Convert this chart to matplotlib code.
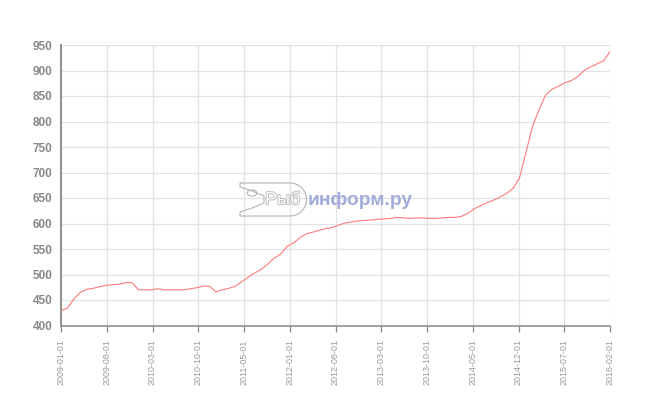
import matplotlib
matplotlib.use('Agg')
import matplotlib.pyplot as plt
import matplotlib.patheffects as pe
from matplotlib.patches import Circle, PathPatch
from matplotlib.path import Path
import numpy as np

plt.rcParams['font.family'] = ['Liberation Sans', 'DejaVu Sans']

# monthly values, 2009-01 .. 2016-02
prices = [429, 434, 452, 465, 471, 473, 476, 479, 480, 481, 484, 484,
          470, 470, 470, 472, 470, 470, 470, 470, 472, 474, 477, 477,
          466, 470, 473, 477, 486, 495, 503, 510, 520, 532, 540, 555,
          562, 572, 580, 583, 587, 590, 592, 597, 601, 603, 605, 606,
          607, 608, 609, 610, 612, 611, 610, 611, 611, 610, 610, 611,
          612, 612, 614, 620, 629, 635, 641, 646, 652, 659, 669, 690,
          740, 790, 823, 851, 863, 869, 876, 880, 888, 900, 907, 913,
          919, 937]
tick_labels = ['2009-01-01', '2009-08-01', '2010-03-01', '2010-10-01',
               '2011-05-01', '2012-01-01', '2012-08-01', '2013-03-01',
               '2013-10-01', '2014-05-01', '2014-12-01', '2015-07-01',
               '2016-02-01']
y_ticks = list(range(400, 951, 50))

W, H = 650, 400
fig = plt.figure(figsize=(6.5, 4), dpi=100)
ax = fig.add_axes([61 / W, 74.5 / H, 549 / W, 280.5 / H])

x = np.arange(len(prices))
ax.plot(x, prices, color='#ff7a7a', lw=0.8, zorder=3)

ax.set_xlim(0, len(prices) - 1)
ax.set_ylim(y_ticks[0], y_ticks[-1])
ax.set_yticks(y_ticks)
ax.set_xticks(np.linspace(0, len(prices) - 1, len(tick_labels)))
ax.set_xticklabels(tick_labels, rotation=90, va='top', ha='center')
for lbl in ax.get_yticklabels():
    lbl.set_fontweight('bold')

ax.grid(color='#e3e3e3', lw=0.9, zorder=0)
ax.set_axisbelow(True)
for s in ['top', 'right']:
    ax.spines[s].set_visible(False)
ax.spines['left'].set_color('#888888')
ax.spines['left'].set_linewidth(1.3)
ax.spines['bottom'].set_color('#888888')
ax.spines['bottom'].set_linewidth(1.1)
ax.tick_params(axis='y', length=0, pad=6, labelcolor='#888888', labelsize=8.5)
ax.tick_params(axis='x', length=4, width=0.9, color='#888888', pad=6,
               labelcolor='#999999', labelsize=6.4)


# watermark logo, pixel coords from top-left
def px(px_x, px_y):
    return (px_x / W, 1 - px_y / H)


logo_col = '#b4b4b4'
r = 16.5
cx, cy = 290, 199.5
ang = np.linspace(90, -90, 30)
arc = [(cx + r * np.cos(np.radians(a)), cy - r * np.sin(np.radians(a))) for a in ang]
pts = [(240, 183)] + arc + [(240, 216), (240, 212), (252, 208), (264, 203),
                           (264, 196), (252, 191), (240, 187), (240, 183)]
logo_path = Path([px(a, b) for a, b in pts])
fig.add_artist(PathPatch(logo_path, fc='none', ec=logo_col, lw=0.8,
                         transform=fig.transFigure))
fig.add_artist(Circle(px(252, 193), 3 / H, fc='none', ec=logo_col, lw=0.8,
                      transform=fig.transFigure))
fig.text(*px(265, 200), 'Рыб', fontsize=13, color='white', va='center', ha='left',
         path_effects=[pe.Stroke(linewidth=1.0, foreground='#a8a8a8'), pe.Normal()])
fig.text(*px(308, 201), 'информ.ру', fontsize=13.8, fontweight='bold',
         color='#a3abd8', va='center', ha='left')

fig.savefig('out.png', dpi=100)
